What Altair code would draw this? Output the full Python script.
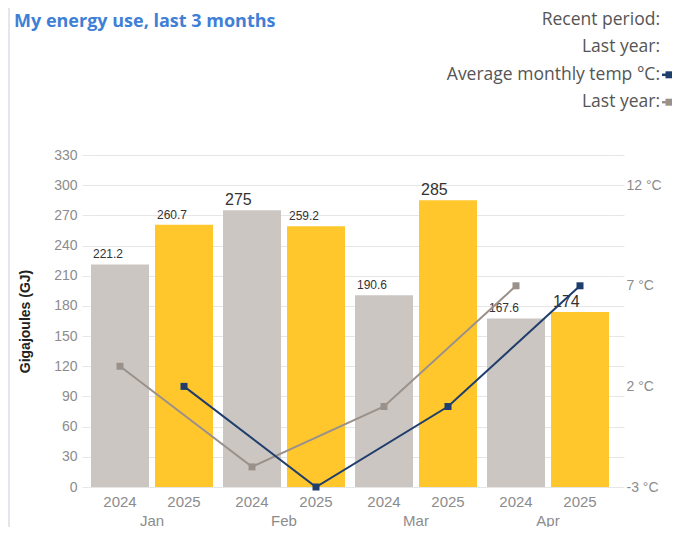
import altair as alt
import pandas as pd

months = ["Jan", "Feb", "Mar", "Apr"]
years = ["2024", "2025"]
gj_2024 = [221.2, 275, 190.6, 167.6]
gj_2025 = [260.7, 259.2, 285, 174]
temp_2024 = [3, -2, 1, 7]
temp_2025 = [2, -3, 1, 7]
gj_ticks = list(range(0, 331, 30))
temp_tick_values = [-3, -1.5, 0, 1.5, 3, 4.5, 6, 7.5, 9, 10.5, 12, 13.5]
temp_label_values = [-3, 2, 7, 12]
title_text = "My energy use, last 3 months"
legend_labels = ["Recent period:", "Last year:", "Average monthly temp °C:", "Last year:"]

rows = []
for yr, gj, tp in [("2024", gj_2024, temp_2024), ("2025", gj_2025, temp_2025)]:
    for m, g, t in zip(months, gj, tp):
        rows.append({"month": m, "year": yr, "gj": g, "label": str(g), "temp": t})
df = pd.DataFrame(rows)

W, H = 524, 332
LABEL_FONT = "Liberation Sans"
GRAY_TXT = "#8c8c8c"
GRID = "#e6e6e6"

x_enc = alt.X("month:N", sort=months,
              scale=alt.Scale(paddingInner=10 / 132, paddingOuter=3 / 132),
              axis=alt.Axis(title=None, domain=False, ticks=False, tickSize=0, labelPadding=26,
                            labelFontSize=15, labelColor=GRAY_TXT, labelAngle=0, labelFont=LABEL_FONT))
xo_enc = alt.XOffset("year:N", sort=years, scale=alt.Scale(paddingInner=6 / 64, paddingOuter=0))

y_gj = alt.Y("gj:Q", scale=alt.Scale(domain=[0, 330], nice=False),
             axis=alt.Axis(values=gj_ticks, title="Gigajoules (GJ)", titleFontSize=14,
                           titleFontWeight="bold", titleColor="#222", titleFont=LABEL_FONT,
                           titlePadding=21, gridColor=GRID, tickColor=GRID, tickSize=6,
                           labelPadding=5, domain=False, labelFontSize=14, labelColor=GRAY_TXT,
                           labelFont=LABEL_FONT))

base = alt.Chart(df)

bars = base.mark_bar().encode(
    x=x_enc, xOffset=xo_enc, y=y_gj,
    color=alt.Color("year:N", scale=alt.Scale(domain=years, range=["#cbc6c2", "#ffc72c"]), legend=None),
)

small_lbl = base.transform_filter("datum.gj % 1 != 0").mark_text(
    align="left", baseline="bottom", dx=-27, dy=-3, fontSize=12, font=LABEL_FONT, color="#333"
).encode(x=x_enc, xOffset=xo_enc, y=y_gj, text="label:N")

big_lbl = base.transform_filter("datum.gj % 1 == 0").mark_text(
    align="left", baseline="bottom", dx=-27, dy=-2, fontSize=16, font=LABEL_FONT, color="#333"
).encode(x=x_enc, xOffset=xo_enc, y=y_gj, text="label:N")

year_txt = base.mark_text(baseline="middle", fontSize=15, font=LABEL_FONT, color=GRAY_TXT).encode(
    x=x_enc, xOffset=xo_enc, y=alt.value(H + 15), text="year:N")

# annotations: title, legend, border
title_df = pd.DataFrame({"t": [title_text]})
title_mark = alt.Chart(title_df).mark_text(
    align="left", baseline="middle", fontSize=18, fontWeight="bold", font="Open Sans", color="#3f7fd6"
).encode(x=alt.value(-74), y=alt.value(-133), text="t:N")

leg_df = pd.DataFrame({"label": legend_labels, "row": list(range(len(legend_labels)))})
legend_text = alt.Chart(leg_df).transform_calculate(py="-135 + datum.row * 27.4").mark_text(
    align="right", baseline="middle", fontSize=17.5, font="Open Sans", color="#555"
).encode(x=alt.value(572), y=alt.Y("py:Q", scale=None), text="label:N")

sw_df = pd.DataFrame({"row": [2, 3], "col": ["navy", "gray"]})
sw_color = alt.Color("col:N", scale=alt.Scale(domain=["navy", "gray"], range=["#1f3d6d", "#9b918b"]), legend=None)
sw_dash = alt.Chart(sw_df).transform_calculate(py="-135 + datum.row * 27.4").mark_rule(strokeWidth=2.5).encode(
    x=alt.value(574), x2=alt.value(578), y=alt.Y("py:Q", scale=None), color=sw_color)
sw_sq = alt.Chart(sw_df).transform_calculate(py="-135 + datum.row * 27.4").mark_point(
    shape="square", filled=True, size=49, opacity=1).encode(
    x=alt.value(581), y=alt.Y("py:Q", scale=None), color=sw_color)

border = alt.Chart(title_df).mark_rule(color="#dcdce6", strokeWidth=1.5).encode(
    x=alt.value(-79), y=alt.value(-147), y2=alt.value(372))

gj_group = alt.layer(bars, small_lbl, big_lbl, year_txt).resolve_scale(color="independent")

temp_axis = alt.Axis(
    orient="right", values=sorted(set(temp_tick_values + temp_label_values)), title=None,
    grid=False, domain=False, tickSize=12, tickColor=GRID,
    tickOpacity={"condition": {"test": "indexof([2, 7], datum.value) >= 0", "value": 0}, "value": 1},
    labelExpr="indexof([-3, 2, 7, 12], datum.value) >= 0 ? datum.value + ' °C' : ''",
    labelOverlap=False, labelPadding=2, labelFontSize=14, labelColor=GRAY_TXT, labelFont=LABEL_FONT)
y_temp = alt.Y("temp:Q", scale=alt.Scale(domain=[-3, 13.5], nice=False, zero=False), axis=temp_axis)

line_color = alt.Color("year:N", scale=alt.Scale(domain=years, range=["#9b918b", "#1f3d6d"]), legend=None)
t_lines = base.mark_line(strokeWidth=2).encode(
    x=x_enc, xOffset=xo_enc, y=y_temp, color=line_color, detail="year:N")
t_pts = base.mark_point(shape="square", filled=True, size=49, opacity=1).encode(
    x=x_enc, xOffset=xo_enc, y=y_temp, color=line_color)
temp_group = alt.layer(t_lines, t_pts)

chart = alt.layer(gj_group, temp_group, title_mark, legend_text, sw_dash, sw_sq, border).resolve_scale(
    y="independent", color="independent"
).properties(
    width=W, height=H,
    autosize=alt.AutoSizeParams(type="none"),
    padding={"left": 80, "top": 147, "right": 60, "bottom": 40},
).configure_view(stroke=None)

chart.save("out.html", embed_options={"renderer": "svg", "actions": False})
